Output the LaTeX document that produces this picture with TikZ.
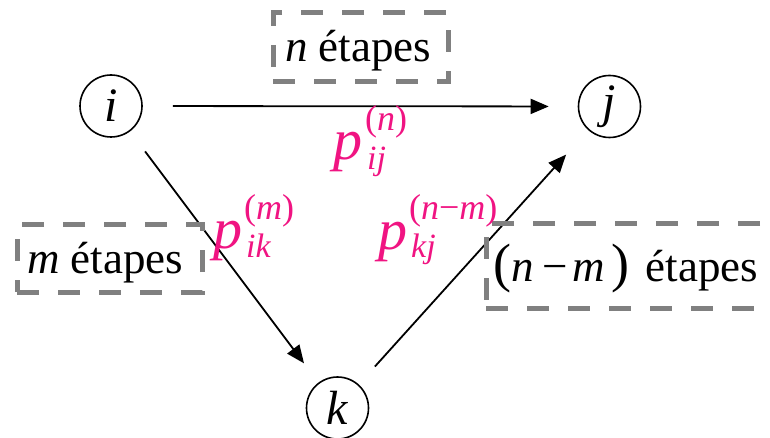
\documentclass[tikz,border=0pt]{standalone}
\usepackage{fontspec}
\setmainfont{Liberation Serif}
\usetikzlibrary{arrows.meta}
\definecolor{pinkp}{RGB}{240,20,130}
\definecolor{boxgray}{RGB}{128,128,128}
\tikzset{
  state/.style={circle,draw,line width=1.6pt,minimum size=62pt,inner sep=0pt,font=\fontsize{48}{50}\selectfont\itshape},
  conn/.style={line width=1.8pt,-{Triangle[length=18pt,width=15pt]}},
  stepsbox/.style={draw=boxgray,line width=5pt,dash pattern=on 22pt off 19pt,inner sep=0pt,font=\fontsize{45}{50}\selectfont},
  steptext/.style={inner sep=0pt,anchor=base west,font=\fontsize{45}{50}\selectfont},
  prob/.style={text=pinkp,inner sep=0pt,anchor=base west,font=\fontsize{58}{60}\selectfont\itshape},
  probsup/.style={text=pinkp,inner sep=0pt,anchor=base west,font=\fontsize{36}{40}\selectfont},
  probsub/.style={text=pinkp,inner sep=0pt,anchor=base west,font=\fontsize{34}{40}\selectfont\itshape}
}
\begin{document}
\begin{tikzpicture}[x=1pt,y=-1pt]
\useasboundingbox (0,0) rectangle (770,438);
\node[state] (i) at (111,106) {i};
\node[state] (j) at (609.5,106.5) {j};
\node[state] (k) at (337.5,408) {k};
\draw[conn,shorten <=30pt,shorten >=29pt] (i) -- (j);
\draw[conn,shorten <=25pt,shorten >=24pt] (i) -- (k);
\draw[conn,shorten <=24pt,shorten >=33pt] (k) -- (j);
\node[stepsbox,minimum width=175pt,minimum height=69pt] (nb) at (360.5,47.5) {};
\node[steptext] (nt) at (285,62) {\textit{n} étapes};
\node[stepsbox,minimum width=185pt,minimum height=67pt] (mb) at (109.5,258.5) {};
\node[steptext] (mt) at (27,273) {\textit{m} étapes};
\node[stepsbox,minimum width=300pt,minimum height=84pt] (nmb) at (636,266) {};
\node[steptext] (nmt) at (493,281) {{\fontsize{54}{56}\selectfont(}\textit{n}\kern9pt−\kern4pt\textit{m}\kern7pt{\fontsize{54}{56}\selectfont)}\kern16pt étapes};
\node[prob] (pij) at (333,160) {p};
\node[probsup] (pijsup) at (365,131) {(\textit{n})};
\node[probsub] (pijsub) at (367,170) {ij};
\node[prob] (pik) at (213,248) {p};
\node[probsup] (piksup) at (244,219) {(\textit{m})};
\node[probsub] (piksub) at (246,257) {ik};
\node[prob] (pkj) at (378,249) {p};
\node[probsup] (pkjsup) at (409,220) {(\textit{n}−\textit{m})};
\node[probsub] (pkjsub) at (411,258) {kj};
\end{tikzpicture}
\end{document}
